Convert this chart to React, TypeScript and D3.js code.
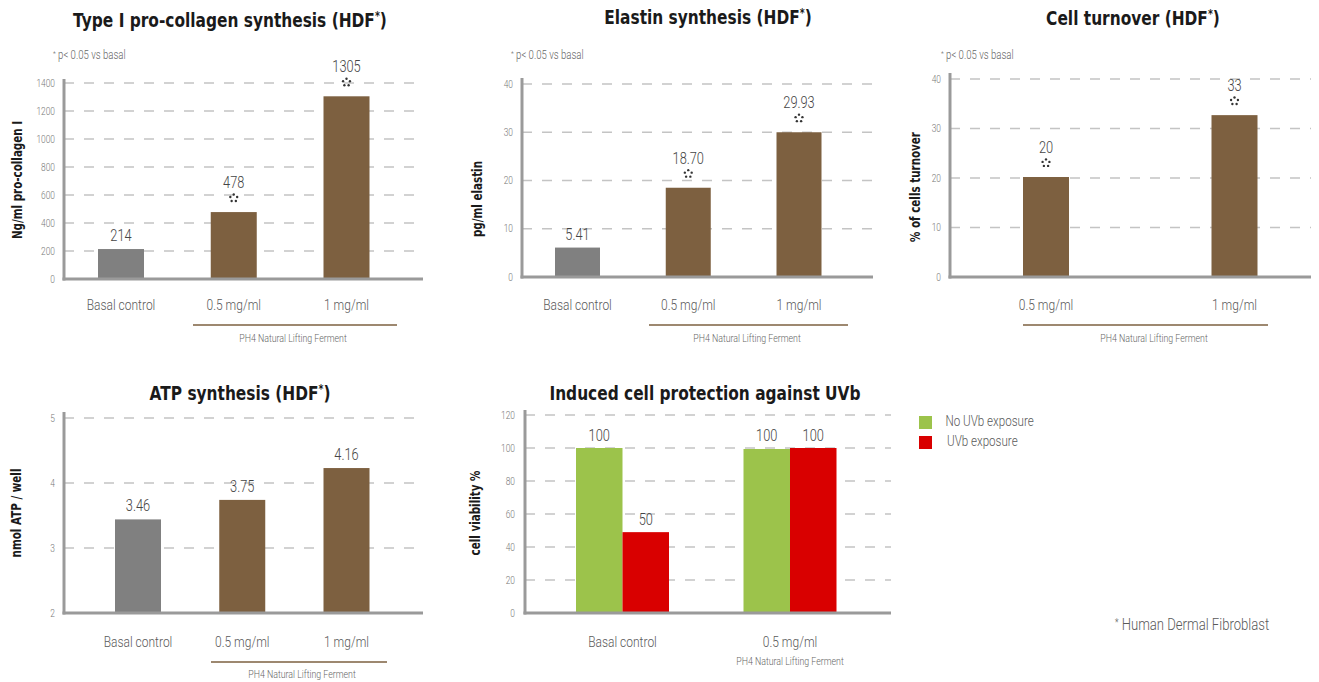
import React from "react";
import * as d3 from "d3";

// ---------- data ----------
const collagenCats = ["Basal control", "0.5 mg/ml", "1 mg/ml"];
const collagenVals = [214, 478, 1305];
const collagenLabels = ["214", "478", "1305"];
const collagenSig = [false, true, true];
const collagenTicks = [0, 200, 400, 600, 800, 1000, 1200, 1400];

const elastinCats = ["Basal control", "0.5 mg/ml", "1 mg/ml"];
const elastinVals = [6.1, 18.5, 30.0];
const elastinLabels = ["5.41", "18.70", "29.93"];
const elastinSig = [false, true, true];
const elastinTicks = [0, 10, 20, 30, 40];

const turnoverCats = ["0.5 mg/ml", "1 mg/ml"];
const turnoverVals = [20.2, 32.7];
const turnoverLabels = ["20", "33"];
const turnoverSig = [true, true];
const turnoverTicks = [0, 10, 20, 30, 40];

const atpCats = ["Basal control", "0.5 mg/ml", "1 mg/ml"];
const atpVals = [3.44, 3.74, 4.23];
const atpLabels = ["3.46", "3.75", "4.16"];
const atpSig = [false, false, false];
const atpTicks = [2, 3, 4, 5];

const uvbCats = ["Basal control", "0.5 mg/ml"];
const uvbSeries = ["No UVb exposure", "UVb exposure"];
const uvbNoExposure = [100, 99.4];
const uvbExposure = [49, 100];
const uvbLabelsNo = ["100", "100"];
const uvbLabelsExp = ["50", "100"];
const uvbTicks = [0, 20, 40, 60, 80, 100, 120];

// ---------- styles ----------
const BROWN = "#7d6040";
const GRAY_BAR = "#808080";
const GREEN = "#9cc34b";
const RED = "#d90000";
const AXIS = "#9a9a9a";
const GRID = "#c4c4c4";
const TXT = "#5a5a5a";
const LIGHT = "'Roboto', 'Open Sans', sans-serif";
const BOLDF = "'DejaVu Sans', sans-serif";
const SX = 0.8;

type TProps = {
  x: number;
  y: number;
  anchor?: "start" | "middle" | "end";
  size: number;
  fill?: string;
  sx?: number;
  bold?: boolean;
  rotate?: boolean;
  dy?: string;
  weight?: number;
  children: React.ReactNode;
};

function T({ x, y, anchor = "start", size, fill = TXT, sx = SX, bold = false, rotate = false, dy, weight = 400, children }: TProps) {
  return (
    <text
      transform={`translate(${x},${y})${rotate ? " rotate(-90)" : ""} scale(${sx},1)`}
      textAnchor={anchor}
      dy={dy}
      fontFamily={bold ? BOLDF : LIGHT}
      fontWeight={bold ? "bold" : weight}
      fontSize={size}
      fill={fill}
    >
      {children}
    </text>
  );
}

function Star({ cx, cy }: { cx: number; cy: number }) {
  const pts = d3.range(5).map((i) => {
    const a = -Math.PI / 2 + (i * 2 * Math.PI) / 5;
    return [cx + 3.6 * Math.cos(a), cy + 3.6 * Math.sin(a)];
  });
  return (
    <g fill="#333">
      {pts.map((p, i) => (
        <circle key={i} cx={p[0]} cy={p[1]} r={1.2} />
      ))}
    </g>
  );
}

function Title({ x, y, text, hdf }: { x: number; y: number; text: string; hdf: boolean }) {
  return (
    <T x={x} y={y} anchor="middle" size={19.5} fill="#1a1a1a" sx={0.79} bold>
      {text}
      {hdf ? (
        <>
          {" (HDF"}
          <tspan dy={-7} fontSize={12}>*</tspan>
          <tspan dy={7}>)</tspan>
        </>
      ) : null}
    </T>
  );
}

function Gridlines({ y, ticks, x0, x1, skip }: { y: d3.ScaleLinear<number, number>; ticks: number[]; x0: number; x1: number; skip: number }) {
  return (
    <g>
      {ticks.filter((t) => t !== skip).map((t) => (
        <line key={t} x1={x0} x2={x1} y1={y(t)} y2={y(t)} stroke={GRID} strokeWidth={1.3} strokeDasharray="10 10" />
      ))}
    </g>
  );
}

function TickLabels({ y, ticks, x }: { y: d3.ScaleLinear<number, number>; ticks: number[]; x: number }) {
  return (
    <g>
      {ticks.map((t) => (
        <T key={t} x={x} y={y(t)} dy="0.35em" anchor="end" size={10.5} fill="#777" weight={300}>
          {t}
        </T>
      ))}
    </g>
  );
}

type PanelProps = {
  title: string;
  hdf: boolean;
  cats: string[];
  vals: number[];
  labels: string[];
  sig: boolean[];
  colors: string[];
  ticks: number[];
  domain: [number, number];
  axisX: number;
  axisTop: number;
  yTop: number;
  baseY: number;
  right: number;
  centers: [number, number];
  barW: number;
  yLabel: string;
  yLabelPos: [number, number];
  titlePos: [number, number];
  note?: [number, number];
  catY: number;
  underline?: [number, number, number];
  phPos?: [number, number];
};

function Panel(p: PanelProps) {
  const y = d3.scaleLinear().domain(p.domain).range([p.baseY, p.yTop]);
  const x = d3.scalePoint<string>().domain(p.cats).range(p.centers).padding(0);
  return (
    <g>
      <Title x={p.titlePos[0]} y={p.titlePos[1]} text={p.title} hdf={p.hdf} />
      {p.note ? (
        <T x={p.note[0]} y={p.note[1]} size={12} fill="#666" weight={300}>
          <tspan dy={-3} fontSize={8}>*</tspan>
          <tspan dy={3}> p&lt; 0.05 vs basal</tspan>
        </T>
      ) : null}
      <Gridlines y={y} ticks={p.ticks} x0={p.axisX} x1={p.right} skip={p.domain[0]} />
      <TickLabels y={y} ticks={p.ticks} x={p.axisX - 9} />
      {p.cats.map((c, i) => {
        const cx = x(c)!;
        const top = y(p.vals[i]);
        return (
          <g key={c}>
            <rect x={cx - p.barW / 2} y={top} width={p.barW} height={p.baseY - top} fill={p.colors[i]} />
            <T x={cx} y={p.sig[i] ? top - 24 : top - 8} anchor="middle" size={16} fill="#444" weight={300}>
              {p.labels[i]}
            </T>
            {p.sig[i] ? <Star cx={cx} cy={top - 14} /> : null}
            <T x={cx} y={p.catY} anchor="middle" size={15} fill={TXT} weight={300}>
              {c}
            </T>
          </g>
        );
      })}
      <line x1={p.axisX} x2={p.axisX} y1={p.axisTop} y2={p.baseY + 1.5} stroke={AXIS} strokeWidth={3} />
      <line x1={p.axisX - 1.5} x2={p.right} y1={p.baseY} y2={p.baseY} stroke={AXIS} strokeWidth={3} />
      <T x={p.yLabelPos[0]} y={p.yLabelPos[1]} rotate anchor="middle" dy="0.35em" size={14} sx={0.74} fill="#1a1a1a" bold>
        {p.yLabel}
      </T>
      {p.underline ? (
        <line x1={p.underline[0]} x2={p.underline[1]} y1={p.underline[2]} y2={p.underline[2]} stroke={BROWN} strokeWidth={1.3} />
      ) : null}
      {p.phPos ? (
        <T x={p.phPos[0]} y={p.phPos[1]} anchor="middle" size={11} fill="#666" weight={300}>
          PH4 Natural Lifting Ferment
        </T>
      ) : null}
    </g>
  );
}

function UvbPanel() {
  const axisX = 525;
  const baseY = 613;
  const right = 891;
  const y = d3.scaleLinear().domain([0, 120]).range([baseY, 415]);
  const xg = d3.scalePoint<string>().domain(uvbCats).range([622.5, 790]).padding(0);
  const xs = d3.scaleBand<string>().domain(uvbSeries).range([-46.5, 46.5]).padding(0);
  const seriesVals = [uvbNoExposure, uvbExposure];
  const seriesLabels = [uvbLabelsNo, uvbLabelsExp];
  const seriesColors = [GREEN, RED];
  return (
    <g>
      <Title x={705} y={400} text="Induced cell protection against UVb" hdf={false} />
      <Gridlines y={y} ticks={uvbTicks} x0={axisX} x1={right} skip={0} />
      <TickLabels y={y} ticks={uvbTicks} x={axisX - 10} />
      {uvbCats.map((c, i) => (
        <g key={c}>
          {uvbSeries.map((s, j) => {
            const bx = xg(c)! + xs(s)!;
            const v = seriesVals[j][i];
            const top = y(v);
            const labelTop = v > 98 ? y(100) : top;
            return (
              <g key={s}>
                <rect x={bx} y={top} width={xs.bandwidth()} height={baseY - top} fill={seriesColors[j]} />
                <T x={bx + xs.bandwidth() / 2} y={labelTop - 7} anchor="middle" size={16} fill="#444" weight={300}>
                  {seriesLabels[j][i]}
                </T>
              </g>
            );
          })}
          <T x={xg(c)!} y={647} anchor="middle" size={15} fill={TXT} weight={300}>
            {c}
          </T>
        </g>
      ))}
      <line x1={axisX} x2={axisX} y1={410} y2={baseY + 1.5} stroke={AXIS} strokeWidth={3} />
      <line x1={axisX - 1.5} x2={right} y1={baseY} y2={baseY} stroke={AXIS} strokeWidth={3} />
      <T x={475} y={513} rotate anchor="middle" dy="0.35em" size={14} sx={0.74} fill="#1a1a1a" bold>
        cell viability %
      </T>
      <T x={xg(uvbCats[1])!} y={665} anchor="middle" size={11} fill="#666" weight={300}>
        PH4 Natural Lifting Ferment
      </T>
      {uvbSeries.map((s, j) => (
        <g key={s}>
          <rect x={919} y={416 + j * 20} width={13} height={13} fill={seriesColors[j]} />
          <T x={j === 0 ? 945.5 : 947} y={421 + j * 20} dy="0.35em" size={14.5} fill={TXT} weight={300}>
            {s}
          </T>
        </g>
      ))}
    </g>
  );
}

export default function App() {
  return (
    <div style={{ position: "absolute", left: 0, top: 0, width: 1319, height: 682, background: "#fff" }}>
      <svg width={1319} height={682} style={{ display: "block" }}>
        <Panel
          title="Type I pro-collagen synthesis"
          hdf={true}
          cats={collagenCats}
          vals={collagenVals}
          labels={collagenLabels}
          sig={collagenSig}
          colors={[GRAY_BAR, BROWN, BROWN]}
          ticks={collagenTicks}
          domain={[0, 1400]}
          axisX={64}
          axisTop={79}
          yTop={83}
          baseY={279}
          right={423}
          centers={[121, 346.5]}
          barW={46}
          yLabel="Ng/ml pro-collagen I"
          yLabelPos={[17, 180]}
          titlePos={[230, 27]}
          note={[53, 59]}
          catY={310}
          underline={[193, 397, 325]}
          phPos={[293, 342]}
        />
        <Panel
          title="Elastin synthesis"
          hdf={true}
          cats={elastinCats}
          vals={elastinVals}
          labels={elastinLabels}
          sig={elastinSig}
          colors={[GRAY_BAR, BROWN, BROWN]}
          ticks={elastinTicks}
          domain={[0, 40]}
          axisX={522}
          axisTop={78}
          yTop={84}
          baseY={277}
          right={873}
          centers={[577.5, 799]}
          barW={45}
          yLabel="pg/ml elastin"
          yLabelPos={[477, 199]}
          titlePos={[708, 24]}
          note={[511, 59]}
          catY={310}
          underline={[649, 848, 325]}
          phPos={[747, 342]}
        />
        <Panel
          title="Cell turnover"
          hdf={true}
          cats={turnoverCats}
          vals={turnoverVals}
          labels={turnoverLabels}
          sig={turnoverSig}
          colors={[BROWN, BROWN]}
          ticks={turnoverTicks}
          domain={[0, 40]}
          axisX={950}
          axisTop={73}
          yTop={79}
          baseY={277}
          right={1311}
          centers={[1046, 1234.5]}
          barW={46}
          yLabel="% of cells turnover"
          yLabelPos={[915, 187]}
          titlePos={[1133, 25]}
          note={[941, 59]}
          catY={310}
          underline={[1023, 1268, 325]}
          phPos={[1154, 342]}
        />
        <Panel
          title="ATP synthesis"
          hdf={true}
          cats={atpCats}
          vals={atpVals}
          labels={atpLabels}
          sig={atpSig}
          colors={[GRAY_BAR, BROWN, BROWN]}
          ticks={atpTicks}
          domain={[2, 5]}
          axisX={64}
          axisTop={412}
          yTop={418}
          baseY={613}
          right={423}
          centers={[138, 346.5]}
          barW={46}
          yLabel="nmol ATP / well"
          yLabelPos={[16, 513]}
          titlePos={[240, 400]}
          catY={647}
          underline={[211, 387, 662]}
          phPos={[302, 678]}
        />
        <UvbPanel />
        <T x={1115} y={630} size={16} sx={0.82} fill={TXT} weight={300}>
          <tspan dy={-4} fontSize={10}>*</tspan>
          <tspan dy={4}> Human Dermal Fibroblast</tspan>
        </T>
      </svg>
    </div>
  );
}
